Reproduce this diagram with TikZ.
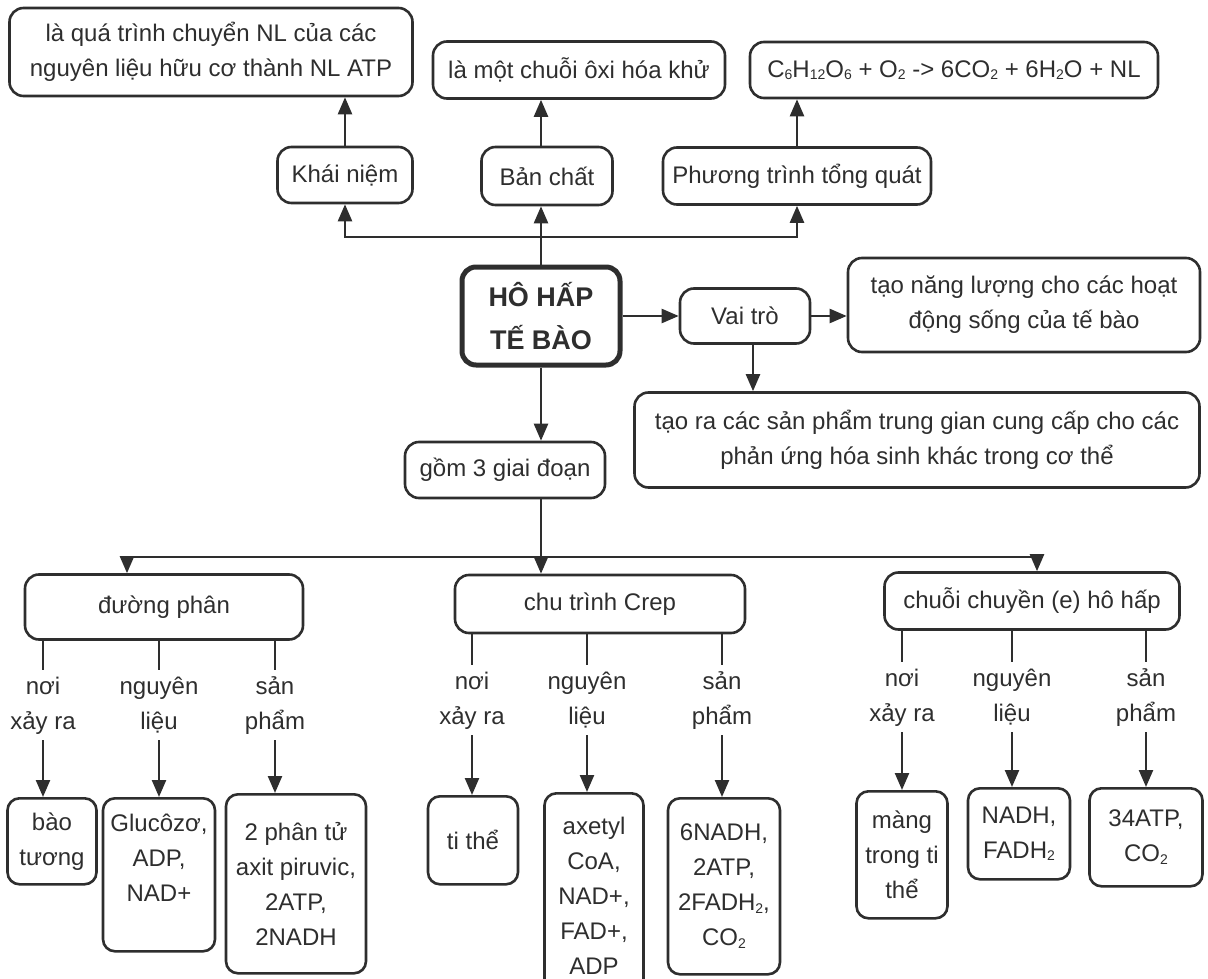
\documentclass[tikz,border=0pt]{standalone}
\usepackage{fontspec}
\setmainfont{Liberation Sans}
\usetikzlibrary{arrows.meta}
\definecolor{ink}{HTML}{2E2E2E}
\newcommand{\chemsub}[1]{\raisebox{-2.5pt}{\fontsize{14}{14}\selectfont #1}}

\begin{document}
\begin{tikzpicture}[x=1pt, y=-1pt,
    every node/.style={font=\fontsize{24}{35}\selectfont, text=ink},
    box/.style={draw=ink, line width=2.6pt, rounded corners=14pt, align=center, inner sep=2pt},
    main/.style={box, line width=5pt, font=\fontsize{27}{43}\selectfont\bfseries},
    leaf/.style={box, anchor=north, rounded corners=12pt},
    tag/.style={align=center, inner sep=0pt, anchor=north},
    arr/.style={draw=ink, line width=2.4pt, -{Triangle[length=17pt,width=14pt]}},
    stem/.style={draw=ink, line width=2.4pt}]
    \useasboundingbox (0,0) rectangle (1208,979);

    % top row
    \node[box, minimum width=403pt, minimum height=88pt] (defn) at (211,52) {là quá trình chuyển NL của các\\nguyên liệu hữu cơ thành NL ATP};
    \node[box, minimum width=292pt, minimum height=57pt] (natd) at (579,70) {là một chuỗi ôxi hóa khử};
    \node[box, minimum width=408pt, minimum height=56pt] (eqn) at (954,70) {C\chemsub{6}H\chemsub{12}O\chemsub{6} + O\chemsub{2} -> 6CO\chemsub{2} + 6H\chemsub{2}O + NL};

    \node[box, minimum width=135pt, minimum height=56pt] (khainiem) at (345,175) {Khái niệm};
    \node[box, minimum width=131pt, minimum height=58pt] (banchat) at (547,176) {Bản chất};
    \node[box, minimum width=268pt, minimum height=57pt] (pttq) at (797,176) {Phương trình tổng quát};

    % centre
    \node[main, minimum width=158pt, minimum height=98pt] (hohap) at (541,316) {HÔ HẤP\\TẾ BÀO};
    \node[box, minimum width=130pt, minimum height=55pt] (vaitro) at (745,316) {Vai trò};
    \node[box, minimum width=352pt, minimum height=94pt] (nangluong) at (1024,305) {tạo năng lượng cho các hoạt\\động sống của tế bào};
    \node[box, minimum width=565pt, minimum height=95pt] (sanpham) at (917,440) {tạo ra các sản phẩm trung gian cung cấp cho các\\phản ứng hóa sinh khác trong cơ thể};
    \node[box, minimum width=200pt, minimum height=56pt] (giaidoan) at (505,470) {gồm 3 giai đoạn};

    \coordinate (hub) at (541,237);
    \coordinate (fork) at (541,557);

    \draw[stem] (hohap.north) -- (hub);
    \draw[arr] (hub) -| (khainiem.south);
    \draw[arr] (hub) -| (pttq.south);
    \draw[arr] (hub) -- (hub |- banchat.south);
    \draw[arr] (khainiem.north) -- (khainiem.north |- defn.south);
    \draw[arr] (hub |- banchat.north) -- (hub |- natd.south);
    \draw[arr] (pttq.north) -- (pttq.north |- eqn.south);

    \draw[arr] (hohap.east) -- (vaitro.west);
    \draw[arr] (vaitro.east) -- (vaitro.east -| nangluong.west);
    \draw[arr] ([xshift=8pt]vaitro.south) -- ([xshift=8pt]vaitro.south |- sanpham.north);
    \draw[arr] (hohap.south) -- (hohap.south |- giaidoan.north);

    % three stages
    \node[box, minimum width=278pt, minimum height=65pt] (dp) at (164,607) {đường phân};
    \node[box, minimum width=290pt, minimum height=58pt] (crep) at (600,604) {chu trình Crep};
    \node[box, minimum width=295pt, minimum height=57pt] (chuoi) at (1032,601) {chuỗi chuyền (e) hô hấp};

    \draw[stem] (hohap.south |- giaidoan.south) -- (fork);
    \draw[arr] (fork) -| ([xshift=-37pt]dp.north);
    \draw[arr] (fork) -- (fork |- crep.north);
    \draw[arr] (fork) -| ([xshift=5pt]chuoi.north);

    % duong phan
    \node[tag] (dpw) at (43,670) {\strut nơi\\xảy ra\strut};
    \node[tag] (dpm) at (159,670) {\strut nguyên\\liệu\strut};
    \node[tag] (dpp) at (275,670) {\strut sản\\phẩm\strut};
    \node[leaf, minimum width=89pt, minimum height=86pt] (dpw1) at (52,797) {bào\\tương};
    \node[leaf, minimum width=112pt, minimum height=153pt] (dpm1) at (159,797) {Glucôzơ,\\ADP,\\NAD+\\~};
    \node[leaf, minimum width=140pt, minimum height=179pt] (dpp1) at (296,793) {2 phân tử\\axit piruvic,\\2ATP,\\2NADH};
    \foreach \t in {dpw,dpm,dpp} {
        \draw[stem] (dp.south -| \t.north) -- (\t.north);
        \draw[arr] (\t.south) -- (\t.south |- \t1.north);
    }

    % chu trinh Crep
    \node[tag] (crw) at (472,665) {\strut nơi\\xảy ra\strut};
    \node[tag] (crm) at (587,665) {\strut nguyên\\liệu\strut};
    \node[tag] (crp) at (722,665) {\strut sản\\phẩm\strut};
    \node[leaf, minimum width=90pt, minimum height=88pt] (crw1) at (473,795) {ti thể};
    \node[leaf, minimum width=99pt, minimum height=205pt] (crm1) at (594,792) {axetyl\\CoA,\\NAD+,\\FAD+,\\ADP};
    \node[leaf, minimum width=112pt, minimum height=176pt] (crp1) at (724,797) {6NADH,\\2ATP,\\2FADH\chemsub{2},\\CO\chemsub{2}};
    \foreach \t in {crw,crm,crp} {
        \draw[stem] (crep.south -| \t.north) -- (\t.north);
        \draw[arr] (\t.south) -- (\t.south |- \t1.north);
    }

    % chuoi chuyen e
    \node[tag] (chw) at (902,662) {\strut nơi\\xảy ra\strut};
    \node[tag] (chm) at (1012,662) {\strut nguyên\\liệu\strut};
    \node[tag] (chp) at (1146,662) {\strut sản\\phẩm\strut};
    \node[leaf, minimum width=91pt, minimum height=127pt] (chw1) at (902,790) {màng\\trong ti\\thể};
    \node[leaf, minimum width=102pt, minimum height=91pt] (chm1) at (1019,787) {NADH,\\FADH\chemsub{2}};
    \node[leaf, minimum width=113pt, minimum height=98pt] (chp1) at (1146,787) {34ATP,\\CO\chemsub{2}};
    \foreach \t in {chw,chm,chp} {
        \draw[stem] (chuoi.south -| \t.north) -- (\t.north);
        \draw[arr] (\t.south) -- (\t.south |- \t1.north);
    }
\end{tikzpicture}
\end{document}
